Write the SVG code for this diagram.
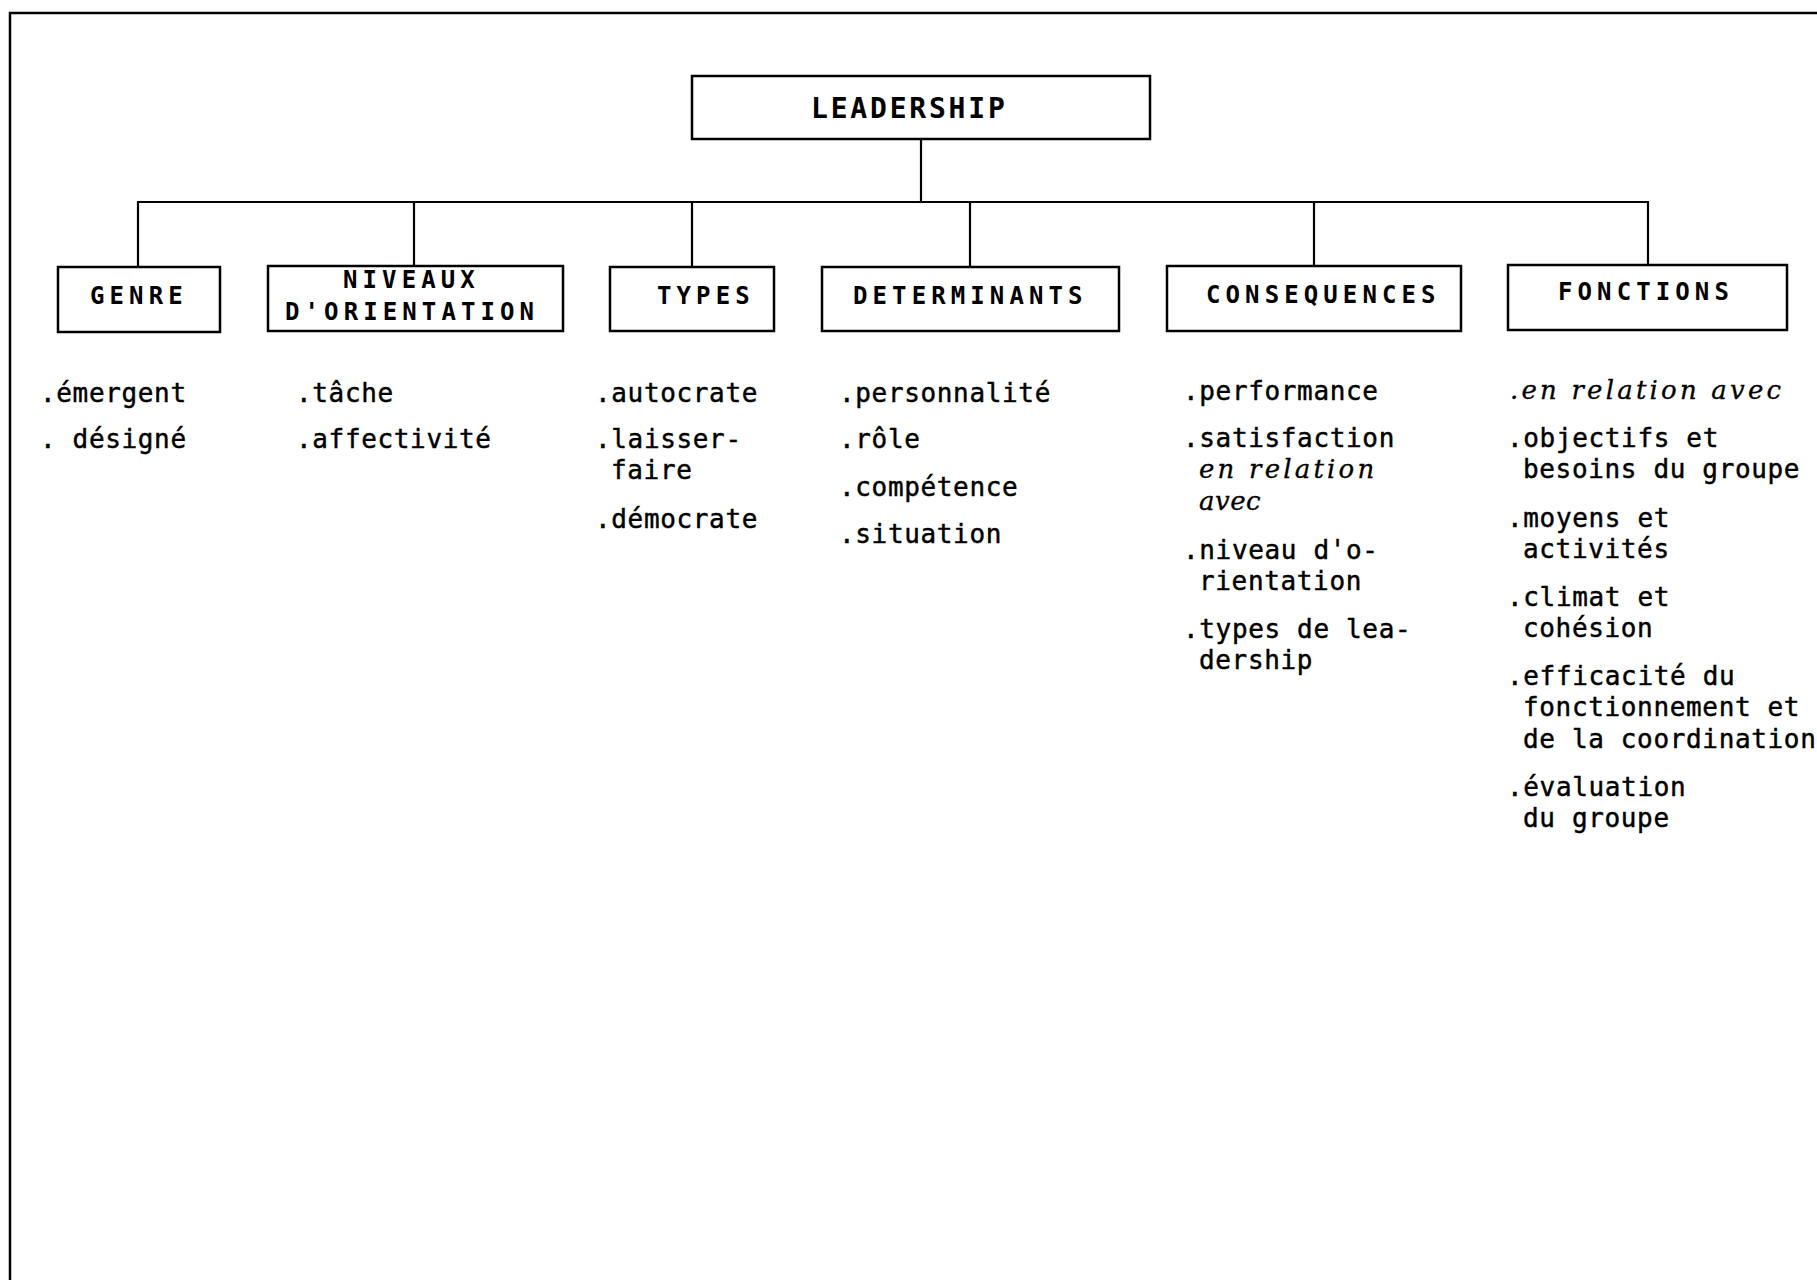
<svg xmlns="http://www.w3.org/2000/svg" width="1817" height="1280" viewBox="0 0 1817 1280">
  <style>
    .frame { fill: none; stroke: #000; stroke-width: 2.5; }
    .box { fill: #fff; stroke: #000; stroke-width: 2.5; }
    .link { fill: none; stroke: #000; stroke-width: 2.2; }
    .head { font-family: "DejaVu Sans Mono", monospace; font-weight: bold; font-size: 24px; letter-spacing: 5.1px; fill: #000; }
    .title { font-family: "DejaVu Sans Mono", monospace; font-weight: bold; font-size: 28px; letter-spacing: 2.8px; fill: #000; }
    .item { font-family: "DejaVu Sans Mono", monospace; font-size: 26px; letter-spacing: 0.65px; fill: #000; stroke: #000; stroke-width: 0.45px; }
    .it { font-family: "DejaVu Serif", serif; font-style: italic; font-size: 26px; letter-spacing: 3.2px; fill: #000; stroke: #000; stroke-width: 0.3px; }
    .it.tight { letter-spacing: 0.5px; }
  </style>
  <rect width="1817" height="1280" fill="#fff"/>

  <!-- page frame: top rule and left rule -->
  <path class="frame" d="M10 1280 V13 H1817"/>

  <!-- tree connectors -->
  <g id="connectors">
    <path class="link" d="M921 139 V202"/>
    <path class="link" d="M138 267 V202 H1648 V266"/>
    <path class="link" d="M414 202 V266"/>
    <path class="link" d="M692 202 V267"/>
    <path class="link" d="M970 202 V267"/>
    <path class="link" d="M1314 202 V266"/>
  </g>

  <g id="leadership">
    <rect class="box" x="692" y="76" width="458" height="63"/>
    <text class="title" x="811" y="118">LEADERSHIP</text>
  </g>

  <g id="genre">
    <rect class="box" x="58" y="267" width="162" height="65"/>
    <text class="head" x="90" y="304">GENRE</text>
    <text class="item" x="40" y="402">.émergent</text>
    <text class="item" x="40" y="448">. désigné</text>
  </g>

  <g id="niveaux">
    <rect class="box" x="268" y="266" width="295" height="65"/>
    <text class="head" x="343" y="288">NIVEAUX</text>
    <text class="head" x="285" y="320">D'ORIENTATION</text>
    <text class="item" x="296" y="402">.tâche</text>
    <text class="item" x="296" y="448">.affectivité</text>
  </g>

  <g id="types">
    <rect class="box" x="610" y="267" width="164" height="64"/>
    <text class="head" x="657" y="304">TYPES</text>
    <text class="item" x="595" y="402">.autocrate</text>
    <text class="item" x="595" y="448">.laisser-</text>
    <text class="item" x="611" y="479">faire</text>
    <text class="item" x="595" y="528">.démocrate</text>
  </g>

  <g id="determinants">
    <rect class="box" x="822" y="267" width="297" height="64"/>
    <text class="head" x="853" y="304">DETERMINANTS</text>
    <text class="item" x="839" y="402">.personnalité</text>
    <text class="item" x="839" y="448">.rôle</text>
    <text class="item" x="839" y="496">.compétence</text>
    <text class="item" x="839" y="543">.situation</text>
  </g>

  <g id="consequences">
    <rect class="box" x="1167" y="266" width="294" height="65"/>
    <text class="head" x="1206" y="303">CONSEQUENCES</text>
    <text class="item" x="1183" y="400">.performance</text>
    <text class="item" x="1183" y="447">.satisfaction</text>
    <text class="it" x="1199" y="478">en relation</text>
    <text class="it tight" x="1199" y="510">avec</text>
    <text class="item" x="1183" y="559">.niveau d'o-</text>
    <text class="item" x="1199" y="590">rientation</text>
    <text class="item" x="1183" y="638">.types de lea-</text>
    <text class="item" x="1199" y="669">dership</text>
  </g>

  <g id="fonctions">
    <rect class="box" x="1508" y="265" width="279" height="65"/>
    <text class="head" x="1558" y="300">FONCTIONS</text>
    <text class="it" x="1510" y="399">.en relation avec</text>
    <text class="item" x="1507" y="447">.objectifs et</text>
    <text class="item" x="1523" y="478">besoins du groupe</text>
    <text class="item" x="1507" y="527">.moyens et</text>
    <text class="item" x="1523" y="558">activités</text>
    <text class="item" x="1507" y="606">.climat et</text>
    <text class="item" x="1523" y="637">cohésion</text>
    <text class="item" x="1507" y="685">.efficacité du</text>
    <text class="item" x="1523" y="716">fonctionnement et</text>
    <text class="item" x="1523" y="748">de la coordination</text>
    <text class="item" x="1507" y="796">.évaluation</text>
    <text class="item" x="1523" y="827">du groupe</text>
  </g>
</svg>
